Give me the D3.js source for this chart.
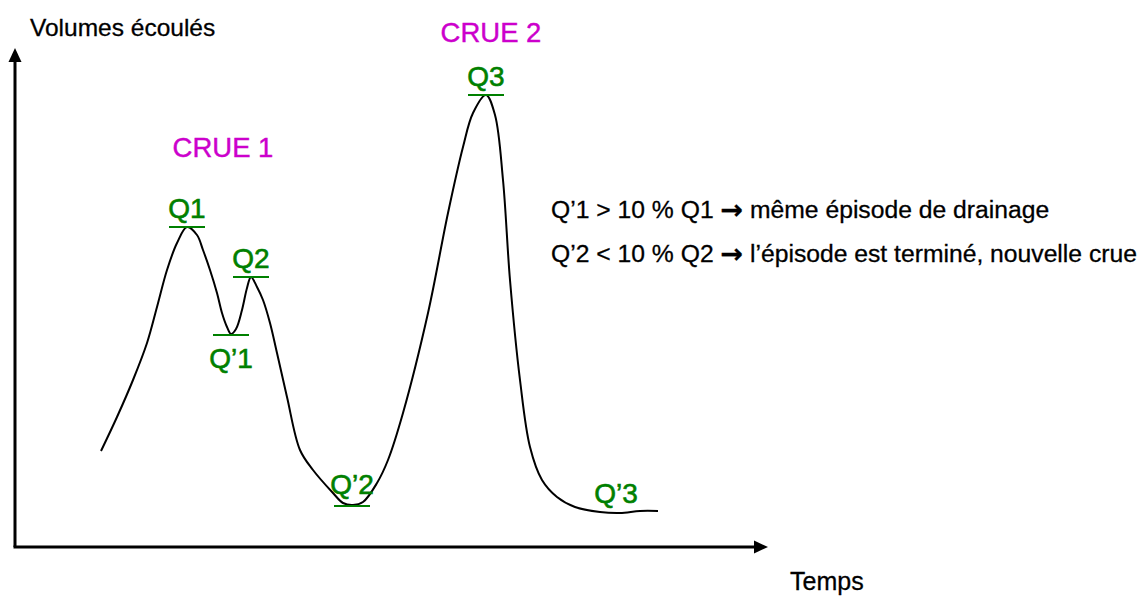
<!DOCTYPE html>
<html>
<head>
<meta charset="utf-8">
<script src="https://cdn.jsdelivr.net/npm/d3@7"></script>
<style>
  html, body { margin: 0; padding: 0; background: #fff; }
  svg { display: block; font-family: "Liberation Sans", Arial, sans-serif; }
</style>
</head>
<body>
<svg id="chart" width="1147" height="598"></svg>
<script>
// Hydrograph: time (arbitrary units) and discharged volume (arbitrary units)
const time = [86, 102, 118, 132, 142, 152, 162, 172, 182, 188, 195, 202, 207, 212, 216, 221, 227, 232, 236,
              242, 248, 255, 262, 272, 285, 298, 318, 328, 338, 348, 362, 373, 388, 413, 433, 448, 458, 471,
              480, 488, 495, 505, 515, 527, 542, 560, 585, 605, 625, 643];
const volume = [96, 130, 167, 204, 240, 277, 304, 320, 312, 297, 277, 254, 234, 220, 213, 218, 237, 259, 270,
                260, 247, 224, 194, 150, 97, 77, 54, 44, 42, 45, 64, 87, 134, 234, 334, 400, 434, 452,
                432, 367, 267, 167, 100, 67, 50, 40, 35, 34, 36, 36];

// Named peaks and troughs of the curve
const markNames = ["Q1", "Q\u20191", "Q2", "Q\u20192", "Q3", "Q\u20193"];
const markTime = [172, 216, 236, 337, 471, 601];
const markVolume = [320, 212, 270, 41, 452, 35];
const markSide = ["above", "below", "above", "above", "above", "above"];
const markRule = [true, true, true, true, true, false];

// Flood episodes
const floodNames = ["CRUE 1", "CRUE 2"];
const floodTime = [208, 476];
const floodVolume = [390, 505];

// Explanatory notes: text before and after the arrow
const noteLeft = ["Q\u20191 > 10 % Q1", "Q\u20192 < 10 % Q2"];
const noteRight = ["même épisode de drainage", "l\u2019épisode est terminé, nouvelle crue"];

const svg = d3.select("#chart");
const x = d3.scaleLinear().domain([0, 753]).range([15, 768]);
const y = d3.scaleLinear().domain([0, 500]).range([547, 47]);

// Axes with arrowheads
const axisColor = "#000";
svg.append("line")
  .attr("x1", x(0)).attr("y1", y(0)).attr("x2", x(0)).attr("y2", y(500) + 10)
  .attr("stroke", axisColor).attr("stroke-width", 3);
svg.append("line")
  .attr("x1", x(0) - 1.5).attr("y1", y(0)).attr("x2", x(753) - 10).attr("y2", y(0))
  .attr("stroke", axisColor).attr("stroke-width", 3);
svg.append("path")
  .attr("d", `M${x(0)},${y(500) + 1} l-6.5,14 l13,0 Z`)
  .attr("fill", axisColor);
svg.append("path")
  .attr("d", `M${x(753)},${y(0)} l-14,-6.5 l0,13 Z`)
  .attr("fill", axisColor);

const blackText = (sel) => sel.attr("fill", "#000").attr("stroke", "#000").attr("stroke-width", 0.3);

svg.append("text").attr("x", 30).attr("y", 36)
  .attr("font-size", 24.5).call(blackText).text("Volumes écoulés");
svg.append("text").attr("x", 790).attr("y", 590)
  .attr("font-size", 25).call(blackText).text("Temps");

// Hydrograph curve
const pts = time.map((t, i) => [t, volume[i]]);
svg.append("path")
  .datum(pts)
  .attr("fill", "none")
  .attr("stroke", "#000")
  .attr("stroke-width", 2)
  .attr("d", d3.line().x(d => x(d[0])).y(d => y(d[1])).curve(d3.curveCatmullRom.alpha(0.5)));

// Peak / trough labels
const green = "#008000";
markNames.forEach((name, i) => {
  const cx = x(markTime[i]);
  const cy = y(markVolume[i]);
  if (markRule[i]) {
    svg.append("line")
      .attr("x1", cx - 18).attr("x2", cx + 18)
      .attr("y1", cy).attr("y2", cy)
      .attr("stroke", green).attr("stroke-width", 2);
  }
  const ty = markSide[i] === "below" ? cy + 33 : cy - (name === "Q\u20192" ? 12 : 9);
  svg.append("text")
    .attr("x", cx).attr("y", ty)
    .attr("text-anchor", "middle")
    .attr("font-size", 28)
    .attr("fill", green)
    .attr("stroke", green)
    .attr("stroke-width", 0.6)
    .text(name);
});

// Flood episode titles
floodNames.forEach((name, i) => {
  svg.append("text")
    .attr("x", x(floodTime[i])).attr("y", y(floodVolume[i]))
    .attr("text-anchor", "middle")
    .attr("font-size", 27.5)
    .attr("fill", "#cc00cc")
    .attr("stroke", "#cc00cc")
    .attr("stroke-width", 0.4)
    .text(name);
});

// Explanatory notes
noteLeft.forEach((n, i) => {
  const t = svg.append("text")
    .attr("x", 551).attr("y", 218 + i * 44)
    .attr("font-size", 24.7)
    .call(blackText);
  t.append("tspan").text(n + " ");
  t.append("tspan").attr("font-family", "DejaVu Sans").attr("font-weight", "bold")
    .attr("font-size", 27).attr("dy", 1).text("\u2192");
  t.append("tspan").attr("dy", -1).text(" " + noteRight[i]);
});
</script>
</body>
</html>
